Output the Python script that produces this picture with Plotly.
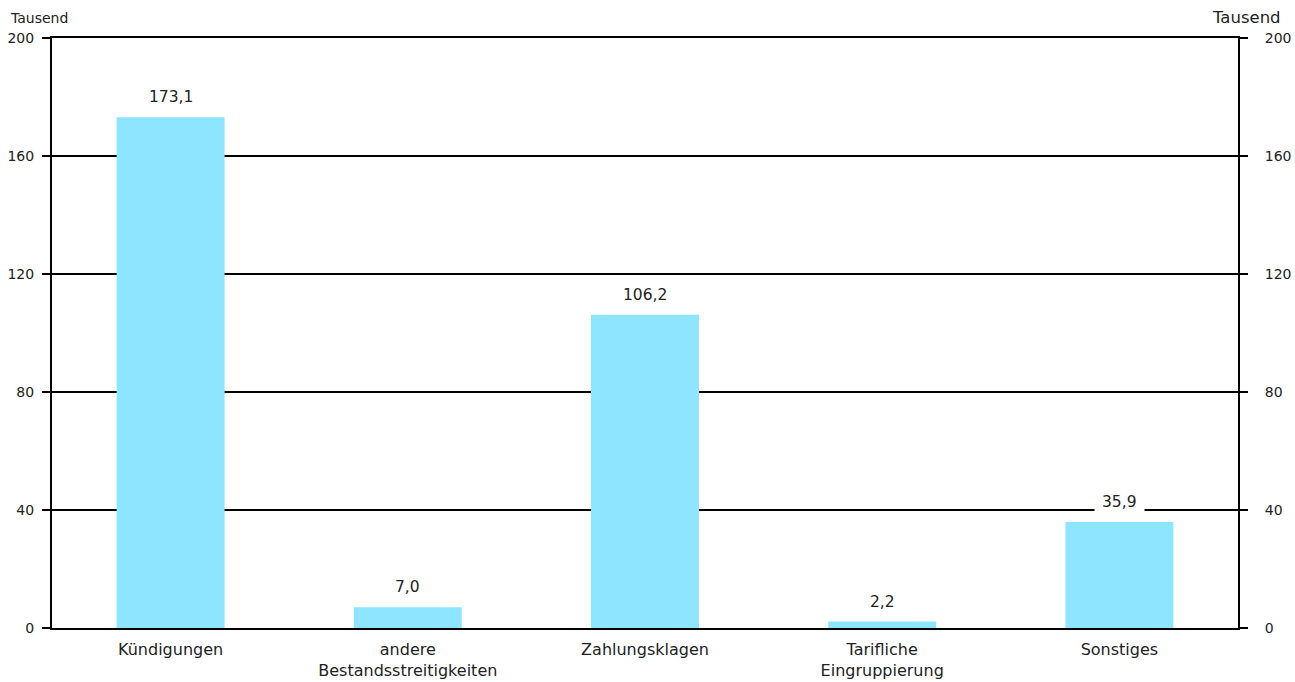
import plotly.graph_objects as go

categories = ["Kündigungen", "andere<br>Bestandsstreitigkeiten", "Zahlungsklagen",
              "Tarifliche<br>Eingruppierung", "Sonstiges"]
values = [173.1, 7.0, 106.2, 2.2, 35.9]
value_labels = ["173,1", "7,0", "106,2", "2,2", "35,9"]
tick_vals = [0, 40, 80, 120, 160, 200]

FONT = "DejaVu Sans"
fig = go.Figure()
fig.add_trace(go.Bar(x=categories, y=values, marker=dict(color="#8EE5FF", line=dict(width=0)),
                     hoverinfo="skip", showlegend=False))
fig.add_trace(go.Scatter(x=categories, y=values, yaxis="y2", mode="markers",
                         marker=dict(opacity=0), showlegend=False, hoverinfo="skip"))

for c, v, t in zip(categories, values, value_labels):
    fig.add_annotation(x=c, y=v, text=t, showarrow=False, yanchor="middle", yshift=20,
                       bgcolor="white", borderpad=7,
                       font=dict(family=FONT, size=15.5, color="#222"))

fig.add_annotation(xref="paper", yref="paper", x=-0.0368, y=1.0, yshift=20, text="Tausend",
                   showarrow=False, xanchor="left", yanchor="middle",
                   font=dict(family=FONT, size=14, color="#222"))
fig.add_annotation(xref="paper", yref="paper", x=1.038, y=1.0, yshift=21, text="Tausend",
                   showarrow=False, xanchor="right", yanchor="middle",
                   font=dict(family=FONT, size=16.5, color="#222"))

axis_common = dict(range=[0, 200], tickvals=tick_vals, ticks="outside", ticklen=8,
                   tickwidth=1.5, tickcolor="black", showline=True, linecolor="black",
                   linewidth=2, zeroline=False, automargin=False,
                   tickfont=dict(family=FONT, size=14, color="#222"))
fig.update_layout(
    width=1295, height=682,
    margin=dict(l=52, r=57, t=38, b=54),
    paper_bgcolor="white", plot_bgcolor="white",
    bargap=0.545,
    font=dict(family=FONT, size=15, color="#222"),
    xaxis=dict(showline=True, linecolor="black", linewidth=2, mirror=True,
               ticks="", tickfont=dict(family=FONT, size=16, color="#222"),
               ticklabelstandoff=6, automargin=False, fixedrange=True),
    yaxis=dict(**axis_common, showgrid=True, gridcolor="black", gridwidth=1.5,
               ticklabelstandoff=5),
    yaxis2=dict(**axis_common, overlaying="y", side="right", showgrid=False,
                ticklabelstandoff=14),
)
fig.write_html("out.html")
